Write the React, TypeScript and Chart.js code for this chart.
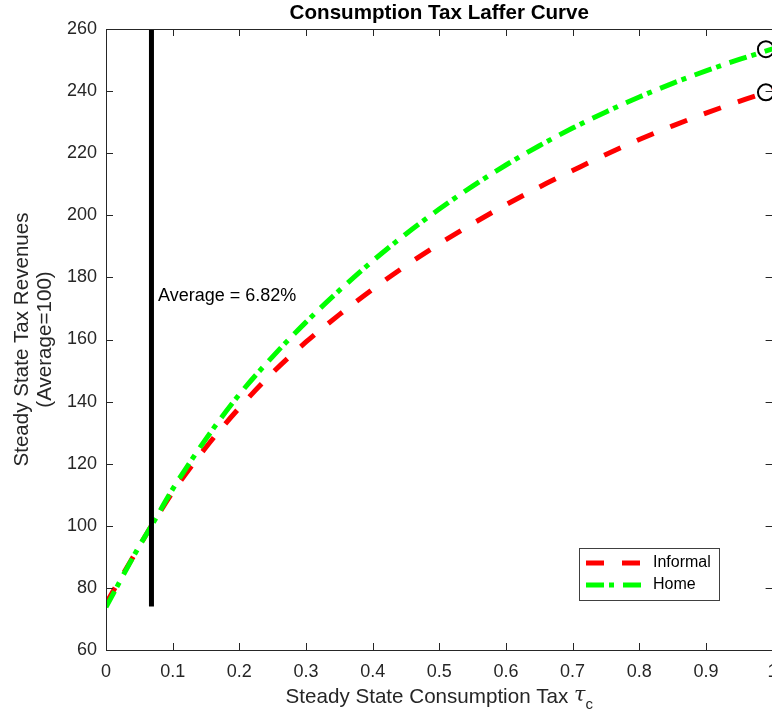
import React, { useEffect, useRef } from "react";
import { Chart, registerables } from "chart.js";

Chart.register(...registerables);

// ---- data ----
const taxRates = [0, 0.05, 0.0682, 0.1, 0.15, 0.2, 0.25, 0.3, 0.35, 0.4, 0.45, 0.5, 0.55, 0.6, 0.65, 0.7, 0.75, 0.8, 0.85, 0.9, 0.95, 1.0];
const informalRevenue = [75, 93.4, 100, 110.8, 125.3, 138, 149.3, 159.2, 168, 176.2, 183.8, 190.8, 197.3, 203.4, 209.1, 214.4, 219.6, 224.4, 228.8, 232.9, 236.7, 240.2];
const homeRevenue = [73.8, 93.5, 100, 111.8, 128, 142.3, 154.5, 165.6, 175.8, 185.3, 194, 202, 209.4, 216.2, 222.4, 228.1, 233.3, 238.1, 242.5, 246.5, 250.2, 253.6];

const averageTax = 0.0682;
const averageLineY = [74, 260];
const averageLabel = "Average = 6.82%";
const averageLabelPos = [0.078, 174];

const peakX = [0.99, 0.99];
const peakY = [253.5, 239.6];

const xTicks = [0, 0.1, 0.2, 0.3, 0.4, 0.5, 0.6, 0.7, 0.8, 0.9, 1];
const yTicks = [60, 80, 100, 120, 140, 160, 180, 200, 220, 240, 260];

const seriesNames = ["Informal", "Home"];
const titleText = "Consumption Tax Laffer Curve";
const xLabelText = "Steady State Consumption Tax ";
const yLabelLines = ["Steady State Tax Revenues", "(Average=100)"];

const FONT = "'Liberation Sans', Arial, Helvetica, sans-serif";
const AXIS_COLOR = "#262626";
const RED = "#ff0000";
const GREEN = "#00ff00";
const RED_DASH = [18, 18];
const GREEN_DASH = [18, 5, 5, 9];
const LABEL_SIZE = 20.6;
const TARGET_RIGHT = 772.6;

const decorPlugin = {
  id: "decor",
  afterDraw(chart: any) {
    const { ctx, chartArea, scales } = chart;
    const xs = scales.x;
    const ys = scales.y;
    const { left, right, top, bottom } = chartArea;
    ctx.save();

    // frame
    ctx.strokeStyle = AXIS_COLOR;
    ctx.lineWidth = 1;
    ctx.beginPath();
    ctx.rect(Math.round(left) + 0.5, Math.round(top) + 0.5, Math.round(right - left), Math.round(bottom - top));
    ctx.stroke();

    // inward ticks
    const tl = 7;
    ctx.beginPath();
    xTicks.forEach((v) => {
      const px = Math.round(xs.getPixelForValue(v)) + 0.5;
      ctx.moveTo(px, bottom);
      ctx.lineTo(px, bottom - tl);
      ctx.moveTo(px, top);
      ctx.lineTo(px, top + tl);
    });
    yTicks.forEach((v) => {
      const py = Math.round(ys.getPixelForValue(v)) + 0.5;
      ctx.moveTo(left, py);
      ctx.lineTo(left + tl, py);
      ctx.moveTo(right, py);
      ctx.lineTo(right - tl, py);
    });
    ctx.stroke();

    const cx = (left + right) / 2;

    // title
    ctx.fillStyle = "#000000";
    ctx.font = `bold ${LABEL_SIZE}px ${FONT}`;
    ctx.textAlign = "center";
    ctx.textBaseline = "middle";
    ctx.fillText(titleText, cx, 13);

    // x label with tau_c
    ctx.fillStyle = AXIS_COLOR;
    ctx.font = `${LABEL_SIZE}px ${FONT}`;
    const w1 = ctx.measureText(xLabelText).width;
    ctx.font = `italic ${LABEL_SIZE}px 'DejaVu Serif', serif`;
    const wt = ctx.measureText("\u03c4").width;
    ctx.font = `15px ${FONT}`;
    const wc = ctx.measureText("c").width;
    const total = w1 + wt + wc;
    let sx = cx - total / 2;
    const ly = 697;
    ctx.textAlign = "left";
    ctx.textBaseline = "middle";
    ctx.font = `${LABEL_SIZE}px ${FONT}`;
    ctx.fillText(xLabelText, sx, ly);
    sx += w1;
    ctx.font = `italic ${LABEL_SIZE}px 'DejaVu Serif', serif`;
    ctx.fillText("\u03c4", sx, ly - 1);
    sx += wt;
    ctx.font = `15px ${FONT}`;
    ctx.fillText("c", sx, ly + 8);

    // y label
    ctx.save();
    ctx.translate(22, (top + bottom) / 2);
    ctx.rotate(-Math.PI / 2);
    ctx.font = `${LABEL_SIZE}px ${FONT}`;
    ctx.textAlign = "center";
    ctx.textBaseline = "middle";
    ctx.fillText(yLabelLines[0], 0, 0);
    ctx.fillText(yLabelLines[1], 0, 23);
    ctx.restore();

    // average annotation
    ctx.fillStyle = "#000000";
    ctx.font = `18px ${FONT}`;
    ctx.textAlign = "left";
    ctx.textBaseline = "middle";
    ctx.fillText(averageLabel, xs.getPixelForValue(averageLabelPos[0]), ys.getPixelForValue(averageLabelPos[1]));

    // legend
    const bx = 579.5, by = 548.5, bw = 140, bh = 52;
    ctx.fillStyle = "#ffffff";
    ctx.fillRect(bx, by, bw, bh);
    ctx.strokeStyle = "#404040";
    ctx.lineWidth = 1;
    ctx.strokeRect(bx, by, bw, bh);
    const items = [
      { name: seriesNames[0], color: RED, dash: RED_DASH, y: 563 },
      { name: seriesNames[1], color: GREEN, dash: GREEN_DASH, y: 585 },
    ];
    items.forEach((it) => {
      ctx.strokeStyle = it.color;
      ctx.lineWidth = 5;
      ctx.setLineDash(it.dash);
      ctx.beginPath();
      ctx.moveTo(586, it.y);
      ctx.lineTo(642, it.y);
      ctx.stroke();
      ctx.setLineDash([]);
      ctx.fillStyle = "#000000";
      ctx.font = `16px ${FONT}`;
      ctx.textAlign = "left";
      ctx.textBaseline = "middle";
      ctx.fillText(it.name, 653, it.y);
    });

    ctx.restore();
  },
};

const zeroPad = (s: any) => {
  s.paddingLeft = 0;
  s.paddingRight = 0;
  s.paddingTop = 0;
  s.paddingBottom = 0;
};

export default function App() {
  const ref = useRef<HTMLCanvasElement | null>(null);

  useEffect(() => {
    if (!ref.current) return;
    const toPts = (ys: number[]) => taxRates.map((x, i) => ({ x, y: ys[i] }));
    const chart = new Chart(ref.current, {
      type: "line",
      data: {
        datasets: [
          {
            label: "peaks",
            data: peakX.map((x, i) => ({ x, y: peakY[i] })),
            showLine: false,
            pointRadius: 8,
            pointBorderWidth: 2,
            pointBorderColor: "#000000",
            pointBackgroundColor: "rgba(0,0,0,0)",
            clip: false as any,
            order: 0,
          },
          {
            label: "average",
            data: averageLineY.map((y) => ({ x: averageTax, y })),
            borderColor: "#000000",
            borderWidth: 5,
            pointRadius: 0,
            order: 1,
          },
          {
            label: seriesNames[1],
            data: toPts(homeRevenue),
            borderColor: GREEN,
            borderWidth: 5,
            borderDash: GREEN_DASH,
            pointRadius: 0,
            cubicInterpolationMode: "monotone",
            order: 2,
          },
          {
            label: seriesNames[0],
            data: toPts(informalRevenue),
            borderColor: RED,
            borderWidth: 5,
            borderDash: RED_DASH,
            pointRadius: 0,
            cubicInterpolationMode: "monotone",
            order: 3,
          },
        ],
      },
      options: {
        responsive: false,
        animation: false,
        devicePixelRatio: 1,
        layout: { autoPadding: false, padding: { left: 0, top: 29, right: 3, bottom: 0 } },
        plugins: { legend: { display: false }, tooltip: { enabled: false }, title: { display: false } },
        events: [],
        scales: {
          x: {
            type: "linear",
            min: 0,
            max: 1,
            afterFit: (s: any) => { s.height = 69; zeroPad(s); },
            afterBuildTicks: (s: any) => { s.ticks = xTicks.map((v) => ({ value: v })); },
            grid: { display: false, drawTicks: false },
            border: { display: false },
            ticks: {
              padding: 11,
              color: AXIS_COLOR,
              font: { family: FONT, size: 18 },
              maxRotation: 0,
              autoSkip: false,
              callback: (v: any) => String(Math.round(Number(v) * 10) / 10),
            },
          },
          y: {
            type: "linear",
            min: 60,
            max: 260,
            afterFit: (s: any) => { s.width = 106; zeroPad(s); },
            afterBuildTicks: (s: any) => { s.ticks = yTicks.map((v) => ({ value: v })); },
            grid: { display: false, drawTicks: false },
            border: { display: false },
            ticks: {
              padding: 9,
              color: AXIS_COLOR,
              font: { family: FONT, size: 18 },
              autoSkip: false,
            },
          },
        },
      },
      plugins: [decorPlugin],
    });
    // nudge the plot's right edge to where the reference puts x = 1
    const diff = chart.chartArea.right - TARGET_RIGHT;
    if (Math.abs(diff) > 0.3) {
      (chart.options.layout as any).padding.right = Math.max(0, 3 + diff);
      chart.update();
    }
    return () => chart.destroy();
  }, []);

  return (
    <div style={{ position: "fixed", left: 0, top: 0, width: 772, height: 719, overflow: "hidden", background: "#fff" }}>
      <canvas ref={ref} width={780} height={719} style={{ display: "block" }} />
    </div>
  );
}
